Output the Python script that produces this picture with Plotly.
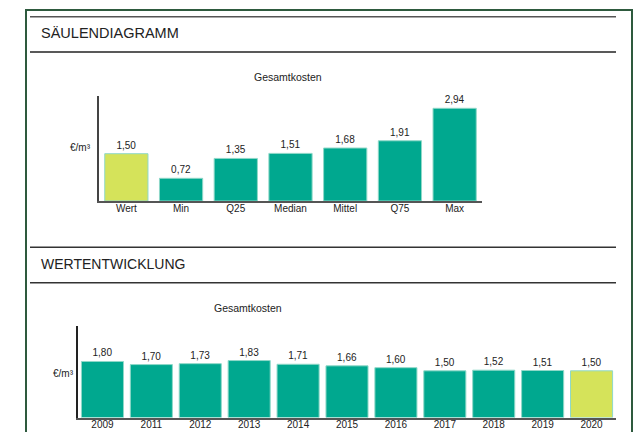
import plotly.graph_objects as go

# ---- data ----
cat_labels = ["Wert", "Min", "Q25", "Median", "Mittel", "Q75", "Max"]
cat_values = [1.50, 0.72, 1.35, 1.51, 1.68, 1.91, 2.94]

years = ["2009", "2011", "2012", "2013", "2014", "2015", "2016", "2017", "2018", "2019", "2020"]
year_values = [1.80, 1.70, 1.73, 1.83, 1.71, 1.66, 1.60, 1.50, 1.52, 1.51, 1.50]

section_titles = ["SÄULENDIAGRAMM", "WERTENTWICKLUNG"]
chart_title = "Gesamtkosten"
unit_label = "€/m³"

TEAL = "#00A88F"
LIME = "#D5E35A"
W, H = 636, 432
FONT = "Liberation Sans, Arial, sans-serif"


def px(x):
    return x / W


def py(y):
    return 1 - y / H


cat_colors = [LIME] + [TEAL] * (len(cat_values) - 1)
year_colors = [TEAL] * (len(year_values) - 1) + [LIME]

fig = go.Figure()
fig.add_trace(go.Bar(
    x=cat_labels, y=cat_values, marker=dict(color=cat_colors, line=dict(color="#8fd8c8", width=1)),
    texttemplate="%{y:.2f}", textposition="outside", cliponaxis=False,
    textfont=dict(size=10, color="#222"), xaxis="x", yaxis="y", showlegend=False,
))
fig.add_trace(go.Bar(
    x=years, y=year_values, width=0.86,
    marker=dict(color=year_colors, line=dict(color="#8fd8c8", width=1)),
    texttemplate="%{y:.2f}", textposition="outside", cliponaxis=False,
    textfont=dict(size=10, color="#222"), xaxis="x2", yaxis="y2", showlegend=False,
))

axis_common = dict(showgrid=False, zeroline=False, ticks="", fixedrange=True)
fig.update_layout(
    width=W, height=H, margin=dict(l=0, r=0, t=0, b=0),
    paper_bgcolor="white", plot_bgcolor="white",
    separators=",.",
    font=dict(family=FONT, color="#222", size=10),
    bargap=0.21,
    xaxis=dict(domain=[px(99), px(482)], anchor="y", showline=True, linecolor="#555", linewidth=1.5,
               tickfont=dict(size=10, color="#222"), range=[-0.5, 6.5], ticklabelstandoff=-3, **axis_common),
    yaxis=dict(domain=[py(201), py(96)], anchor="x", showline=True, linecolor="#444", linewidth=1.5,
               showticklabels=False, range=[0, 3.33], **axis_common),
    xaxis2=dict(domain=[px(78), px(616)], anchor="y2", showline=True, linecolor="#555", linewidth=1.5,
                tickfont=dict(size=10, color="#222"), range=[-0.5, 10.5], ticklabelstandoff=-3, **axis_common),
    yaxis2=dict(domain=[py(417.5), py(326)], anchor="x2", showline=True, linecolor="#222", linewidth=1.5,
                showticklabels=False, range=[0, 2.94], **axis_common),
)

shapes = [
    dict(type="rect", xref="paper", yref="paper", x0=px(26), x1=px(632), y0=py(460), y1=py(10),
         line=dict(color="#2E5A3E", width=2)),
]
for yy, col in [(16.7, "#555"), (52, "#222"), (247.3, "#333"), (282.7, "#333")]:
    shapes.append(dict(type="line", xref="paper", yref="paper", x0=px(30), x1=px(616), y0=py(yy), y1=py(yy),
                       line=dict(color=col, width=1.5)))
fig.update_layout(shapes=shapes)

annotations = [
    dict(text=section_titles[0], x=px(39), y=py(33), xanchor="left", yanchor="middle", font=dict(size=14.5, color="#222")),
    dict(text=section_titles[1], x=px(39), y=py(264), xanchor="left", yanchor="middle", font=dict(size=14, color="#222")),
    dict(text=chart_title, x=px(288), y=py(77), xanchor="center", yanchor="middle", font=dict(size=10.5, color="#222")),
    dict(text=chart_title, x=px(248), y=py(308), xanchor="center", yanchor="middle", font=dict(size=10.5, color="#222")),
    dict(text=unit_label, x=px(80), y=py(147), xanchor="center", yanchor="middle", font=dict(size=10, color="#222")),
    dict(text=unit_label, x=px(63), y=py(373), xanchor="center", yanchor="middle", font=dict(size=10, color="#222")),
]
for a in annotations:
    a.update(xref="paper", yref="paper", showarrow=False)
fig.update_layout(annotations=annotations)

fig.write_html(
    "out.html",
    config={"displayModeBar": False},
    post_script="document.body.style.margin='0';document.body.style.overflow='hidden';",
)
